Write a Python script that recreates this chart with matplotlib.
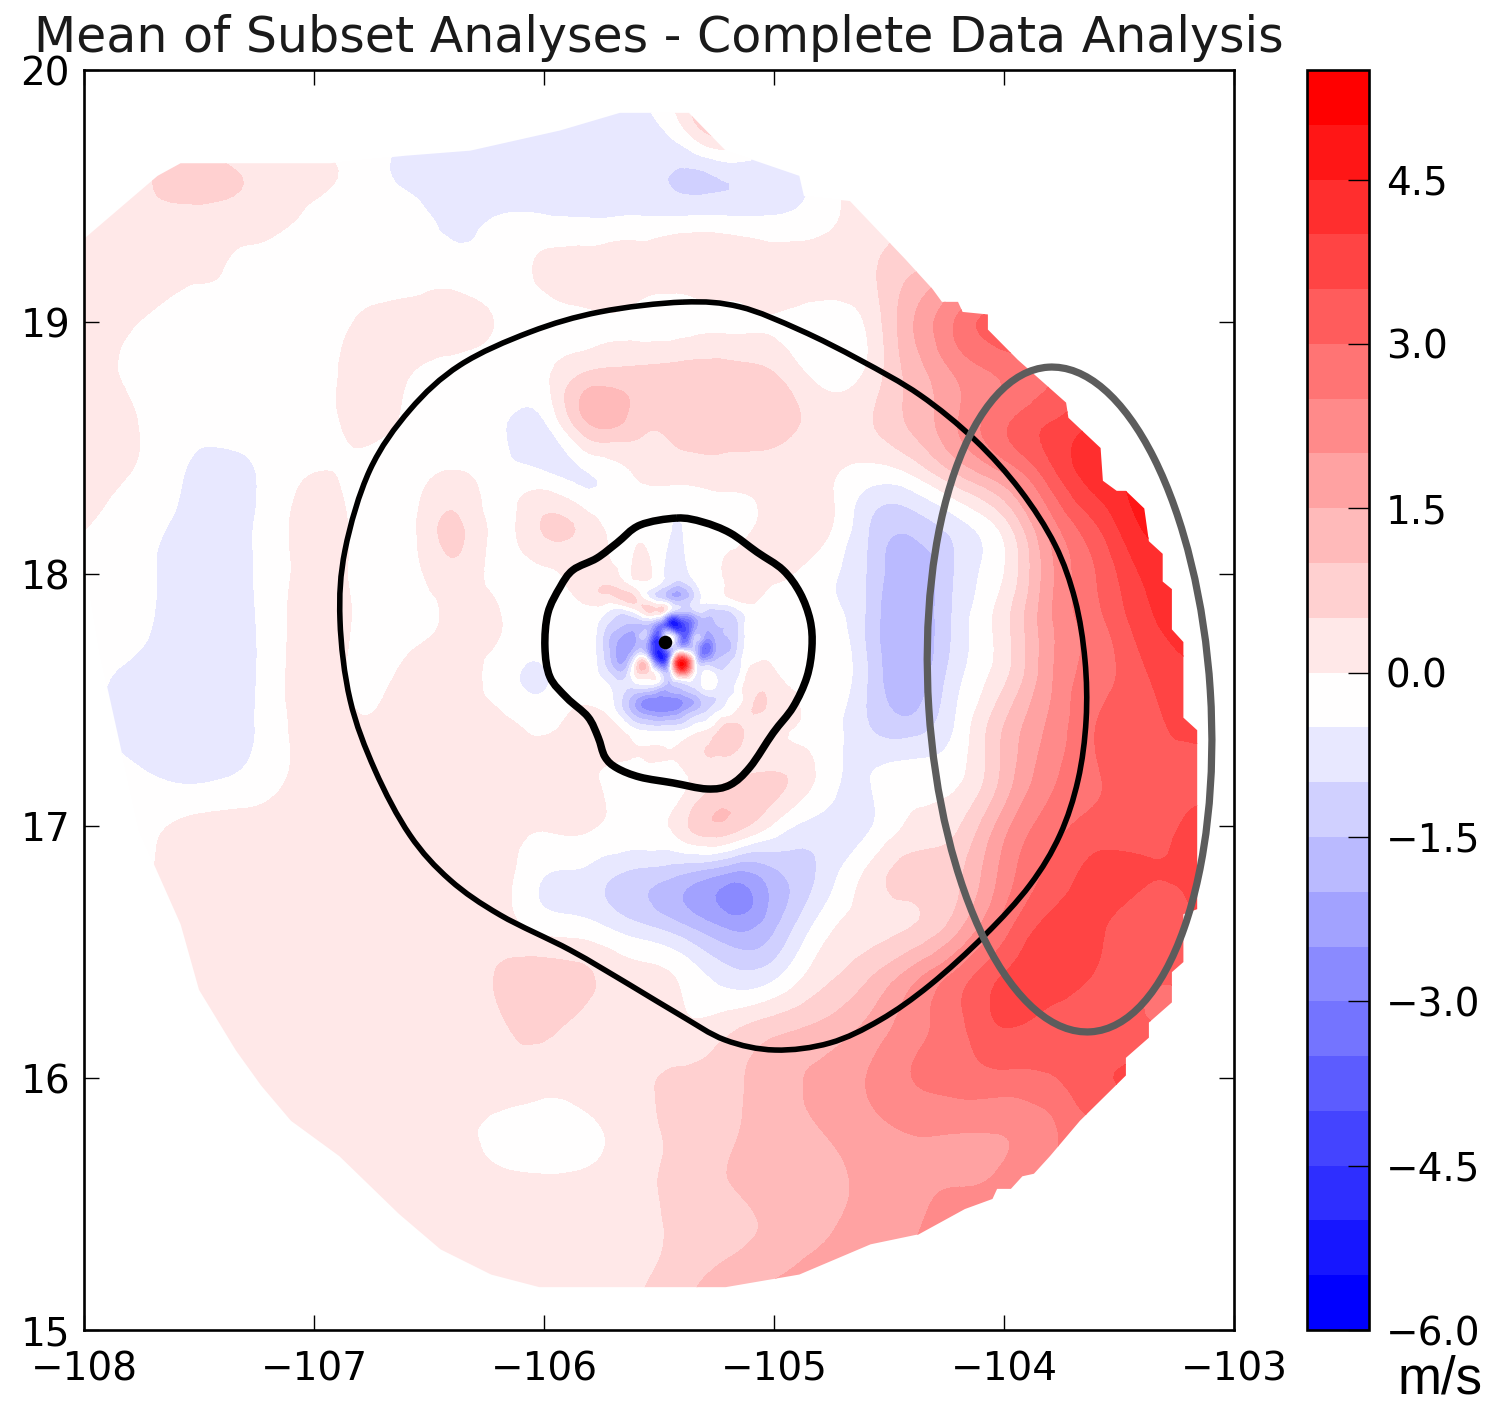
import numpy as np
import matplotlib
matplotlib.use("Agg")
import matplotlib.pyplot as plt
import matplotlib.tri as mtri
from matplotlib.patches import Ellipse, Polygon, PathPatch
from matplotlib.path import Path
from matplotlib.transforms import Affine2D

# wind difference (m/s), 0.2 degree grid, north to south
lons = [round(-108 + 0.2 * i, 3) for i in range(26)]
lats = [round(20 - 0.2 * i, 3) for i in range(26)]
field = [
    [-.25]*26,
    [-.25,-.25,-.25,-.25,-.25,-.25,-.25,-.25,-.25,-.3,-.6,-.75,-.75,.1,1.0,-.25,-.25,-.25,-.25,-.25,-.25,-.25,-.25,-.25,-.25,-.25],
    [.2,.3,.7,.6,.3,.1,-.2,-.6,-.8,-.8,-.8,-.8,-.8,-1.05,-.8,-.7,-.3,.3,.6,1,1.5,2,2,2,2,2],
    [.2,.25,.25,.25,.2,-.15,-.25,-.3,-.6,-.45,-.4,-.45,-.4,-.35,-.35,-.4,-.2,.3,.7,1.5,2,2.5,2.5,2.5,2.5,2.5],
    [.1,.25,.1,0,-.25,-.25,-.25,-.25,-.25,-.25,.1,.25,.3,.3,.3,.3,.25,.4,.95,1.5,2,2.5,3,3,3,3],
    [.1,.05,-.2,-.25,-.25,-.25,.05,.2,.25,-.05,-.2,-.1,-.15,-.2,-.1,-.05,-.3,.05,1.45,2.6,3.3,3.3,3.3,3.3,3.3,3.3],
    [.1,-.05,-.25,-.25,-.25,-.2,.15,.05,-.2,-.25,-.1,.55,.65,.75,.75,.5,-.2,.05,1.2,2.1,2.6,3.0,3.5,3.5,3.5,3.5],
    [.15,.05,-.25,-.25,-.25,-.25,.15,-.1,-.25,-.35,-.55,1.05,.75,.75,.8,.75,.3,.4,1.1,2.0,2.9,3.5,4,4,4,4],
    [.2,0,-.4,-.75,-.35,0,-.15,-.25,.05,-.25,-.45,-.5,.05,.2,.25,.25,.15,-.2,.05,1.05,2,3.3,4.3,4.6,4.6,4.6],
    [.05,-.25,-.55,-.75,-.3,.2,-.2,-.25,.6,-.15,.55,.2,-.2,-.5,-.2,.2,.25,-.9,-1.3,-.65,.3,2.25,3.5,4.55,4.6,4.6],
    [-.25,-.25,-.7,-.8,-.3,.15,-.15,-.25,.3,-.2,-.15,-.2,.2,-.3,.1,.1,-.3,-1,-1.85,-.9,0,1.85,3,4.05,4.4,4.4],
    [-.25,-.3,-.75,-.85,-.3,.2,-.1,-.2,.1,.05,-.4,-.5,-.3,-1.2,-.8,-.3,-.25,-1.05,-1.95,-.8,.3,1.9,2.8,3.75,4.2,4.2],
    [-.3,-.6,-.8,-.85,-.3,.2,-.1,.1,.2,-.2,-.55,-1.2,-1.5,-1,-1,.1,-.1,-.95,-1.85,-.65,.35,1.9,2.75,3.4,3.9,3.9],
    [-.25,-.7,-.85,-.8,-.3,.2,.05,.2,.25,.15,-.1,.2,-.75,-.8,.4,.15,-.15,-.95,-1.3,-.4,1,2.1,3,3.35,3.6,3.6],
    [-.25,-.4,-.6,-.55,-.2,.15,.1,.15,.3,.25,.25,.1,-.2,-.1,.4,.55,-.1,-.55,-.25,-.1,1.15,2.35,2.95,3.3,3.4,3.4],
    [-.25,-.25,.05,.2,.2,.25,.25,.25,.25,.2,.05,.05,-.1,.3,.85,-.1,-.7,-.6,.1,.45,1.8,2.75,3.2,3.3,3.55,3.6],
    [-.25,-.1,.1,.25,.25,.25,.25,.25,.25,.25,-.5,-.7,-1.2,-1.6,-2.2,-1.7,-.9,.1,.7,.9,2.2,3.15,3.65,3.55,3.55,3.6],
    [.25,.25,.1,.25,.25,.25,.25,.25,.25,.25,-.2,-.35,-.85,-1.4,-2.1,-1.6,-.3,.25,.5,1.35,2.75,3.65,3.6,3.25,3.45,3.5],
    [.25,.25,.25,.25,.25,.25,.25,.25,.25,.55,.8,.55,.2,-.1,-.75,-.6,.3,.9,1.8,2.7,3.55,3.75,3.45,3.1,3.1,3.1],
    [.25,.25,.25,.25,.25,.25,.25,.25,.25,.4,.6,.3,.25,.1,.35,.8,1.1,1.6,2.3,2.85,3.5,3.3,3.2,3.1,3,3],
    [.25,.25,.25,.25,.25,.25,.25,.25,.25,.25,.25,.25,.35,.6,.85,1.3,1.6,2,2.5,2.75,2.85,2.95,3.4,3.6,3.6,3.6],
    [.25,.25,.25,.25,.25,.25,.25,.25,.1,-.1,-.3,-.1,.3,.6,.9,1.25,1.5,1.8,2.05,2.05,2.05,2.4,2.9,3,3,3],
    [.25,.25,.25,.25,.25,.25,.25,.25,.25,.1,.05,.1,.3,.7,1,1.2,1.4,1.6,1.9,1.95,2.1,2.5,2.5,2.5,2.5,2.5],
    [.25,.25,.25,.25,.25,.25,.2,.25,.25,.3,.3,.3,.35,.6,.85,1.1,1.4,1.7,1.95,2.2,2.2,2.2,2.2,2.2,2.2,2.2],
    [.25,.25,.25,.25,.25,.25,.25,.25,.25,.25,.25,.25,.4,.8,1.2,1.5,1.8,2,2.2,2.4,2.4,2.4,2.4,2.4,2.4,2.4],
    [.25,.25,.25,.25,.25,.25,.25,.25,.25,.25,.25,.3,.6,1,1.5,1.9,2.1,2.3,2.5,2.5,2.5,2.5,2.5,2.5,2.5,2.5],
]

# storm core on a 0.05 degree grid, north to south
core_lons = [round(-105.8 + 0.05 * i, 3) for i in range(15)]
core_lats = [round(18.0 - 0.05 * i, 3) for i in range(14)]
core_field = [
    [.2,.2,.1,-.1,.1,.1,-.3,-.7,-.7,-.4,-.2,-.1,.1,.1,.1],
    [.4,.5,.5,.2,-.1,-.3,-.7,-1.3,-1.5,-.8,-.3,-.2,.1,.2,.1],
    [.2,.3,.3,.6,.5,-.2,-.9,-1.6,-1.7,-1,-.4,-.2,-.1,.1,.1],
    [-.2,-.3,-.7,-.8,-.3,.5,.5,-1.1,-1.5,-1.3,-1.1,-1.2,-1.1,-.6,-.25],
    [-.3,-.7,-1.2,-1.5,-1.6,-1.5,-2.8,-5,-4.5,-2.8,-1.8,-1.5,-1.5,-.9,-.25],
    [-.3,-.9,-1.7,-2.2,-2,-1.9,-4,-.2,-3.5,-1.8,-2.2,-1.8,-1.5,-.9,-.25],
    [-.3,-.9,-1.8,-2.4,-1.7,-2.4,-5,-2.2,-1.1,-1.4,-3.5,-2,-1.6,-.8,-.25],
    [-.3,-.8,-1.7,-2,0,.1,-4,-1.1,5,.5,-1.7,-1.4,-1.1,-.6,-.1],
    [-.25,-.6,-1.1,-1.2,.1,.3,-.5,-1,1.5,-.2,-.3,-.6,-.9,-.5,.2],
    [-.25,-.3,-.6,-.9,-.9,-.9,-1.4,-1.7,-1.4,-1,-.4,-.6,-.8,-.2,.3],
    [-.1,-.25,-.5,-1.2,-2,-2.7,-2.8,-2.8,-2.5,-2,-1.3,-1,-.5,-.2,.4],
    [.1,.05,-.3,-1,-1.8,-2.3,-2.5,-2.4,-2,-1.4,-1,-.5,-.25,.2,.5],
    [.2,.2,.1,-.3,-.8,-1,-1.1,-1,-.9,-.5,-.3,.1,.6,.5,.4],
    [.2,.2,.2,.1,-.1,-.15,-.2,-.2,-.1,.1,.3,.6,.8,.6,.3],
]

# edge of the analysis domain
domain_lon = [-108,-107.68,-107.58,-106.93,-106.6,-106.32,-105.93,-105.67,-105.37,-105.21,-104.89,-104.87,-104.67,-104.43,
              -104.31,-104.27,-104.2,-104.18,-104.07,-104.07,-103.94,-103.73,-103.72,-103.58,-103.57,-103.51,-103.47,-103.39,
              -103.37,-103.31,-103.31,-103.27,-103.27,-103.22,-103.22,-103.16,-103.16,-103.22,-103.22,-103.27,-103.27,-103.37,
              -103.37,-103.47,-103.47,-103.57,-103.67,-103.8,-103.87,-103.92,-103.97,-104.03,-104.05,-104.17,-104.37,-104.58,
              -104.89,-105.21,-106.02,-106.23,-106.45,-106.63,-106.89,-107.1,-107.23,-107.34,-107.5,-107.58,-107.76,-107.93,-108]
domain_lat = [19.33,19.58,19.63,19.63,19.66,19.68,19.76,19.83,19.83,19.68,19.58,19.5,19.48,19.25,
              19.13,19.08,19.08,19.04,19.03,18.97,18.85,18.68,18.62,18.5,18.37,18.33,18.33,18.26,
              18.13,18.08,17.97,17.94,17.78,17.73,17.43,17.38,16.67,16.65,16.46,16.42,16.3,16.22,
              16.16,16.08,16.01,15.92,15.83,15.69,15.62,15.61,15.56,15.56,15.52,15.48,15.38,15.34,
              15.22,15.17,15.17,15.22,15.32,15.46,15.69,15.83,15.97,16.11,16.35,16.61,16.98,17.68,18.06]

# black contours
outer_lon = [-105.396,-105.148,-104.887,-104.626,-104.365,-104.126,-103.93,-103.778,-103.691,-103.648,-103.643,-103.678,
             -103.757,-103.887,-104.083,-104.322,-104.539,-104.757,-104.996,-105.213,-105.409,-105.626,-105.887,-106.191,
             -106.409,-106.583,-106.735,-106.843,-106.887,-106.865,-106.757,-106.583,-106.365,-106.061,-105.757]
outer_lat = [19.079,19.06,18.968,18.849,18.71,18.532,18.333,18.115,17.897,17.659,17.421,17.183,
             16.964,16.766,16.567,16.369,16.23,16.139,16.111,16.151,16.25,16.369,16.508,16.647,
             16.786,16.964,17.222,17.5,17.817,18.095,18.413,18.651,18.829,18.96,19.04]
inner_lon = [-105.422,-105.309,-105.191,-105.074,-104.961,-104.887,-104.843,-104.835,-104.857,-104.917,-105.004,-105.104,
             -105.191,-105.291,-105.439,-105.583,-105.683,-105.735,-105.765,-105.809,-105.9,-105.974,-105.996,-105.983,
             -105.93,-105.874,-105.77,-105.683,-105.583]
inner_lat = [18.222,18.206,18.163,18.087,18.016,17.925,17.817,17.71,17.591,17.472,17.369,17.234,
             17.163,17.147,17.171,17.194,17.23,17.274,17.353,17.433,17.508,17.591,17.71,17.845,
             17.948,18.016,18.063,18.123,18.194]

center_lon = -105.474
center_lat = 17.73

levels = np.arange(-6, 5.51, 0.5)
cbar_ticks = [-6, -4.5, -3, -1.5, 0, 1.5, 3, 4.5]
cbar_labels = ["\u22126.0", "\u22124.5", "\u22123.0", "\u22121.5", "0.0", "1.5", "3.0", "4.5"]
x_ticks = [-108, -107, -106, -105, -104, -103]
y_ticks = [15, 16, 17, 18, 19, 20]


def closed_curve(xs, ys):
    """Smooth closed bezier path through the points (Catmull-Rom tangents)."""
    pts = np.column_stack([xs, ys])
    n = len(pts)
    verts = [pts[0]]
    codes = [Path.MOVETO]
    for i in range(n):
        p0, p1, p2, p3 = pts[i - 1], pts[i], pts[(i + 1) % n], pts[(i + 2) % n]
        verts += [p1 + (p2 - p0) / 6, p2 - (p3 - p1) / 6, p2]
        codes += [Path.CURVE4] * 3
    return Path(verts, codes)


# merge both grids: core points replace the coarse ones inside the core box
glon, glat = np.meshgrid(lons, lats)
gval = np.array(field)
clon, clat = np.meshgrid(core_lons, core_lats)
keep = ~((glon >= -105.801) & (glon <= -105.099) & (glat >= 17.349) & (glat <= 18.001))
all_lon = np.concatenate([glon[keep], clon.ravel()])
all_lat = np.concatenate([glat[keep], clat.ravel()])
all_val = np.concatenate([gval[keep], np.array(core_field).ravel()])

tri = mtri.Triangulation(all_lon, all_lat)
smooth_tri, smooth_val = mtri.UniformTriRefiner(tri).refine_field(all_val, subdiv=3)
smooth_val = np.clip(smooth_val, -5.99, 5.49)

fig = plt.figure(figsize=(14.9, 14.09), dpi=100)
W, H = 1490.0, 1409.0
ax = fig.add_axes([84 / W, 1 - 1330 / H, 1150 / W, 1260 / H])
cax = fig.add_axes([1307 / W, 1 - 1330 / H, 62 / W, 1260 / H])

cmap = plt.get_cmap("bwr")
colors = [cmap(i / 22) for i in range(23)]

clip = Polygon(np.column_stack([domain_lon, domain_lat]), closed=True, transform=ax.transData)
cf = ax.tricontourf(smooth_tri, smooth_val, levels=levels, colors=colors)
cf.set_clip_path(clip)

ax.add_patch(PathPatch(closed_curve(outer_lon, outer_lat), fill=False, ec="black", lw=4.0, zorder=5))
ax.add_patch(PathPatch(closed_curve(inner_lon, inner_lat), fill=False, ec="black", lw=5.4, zorder=5))
ax.scatter([center_lon], [center_lat], s=95, color="black", zorder=6, linewidths=0)

# highlight ellipse, drawn in screen-square units so the tilt stays right
stretch = 252 / 230
ax.add_patch(Ellipse((-103.715, 17.502 * stretch), 282 / 230, 666 / 230, angle=3.67, fill=False,
                     ec="#5c5c5c", lw=5.2, zorder=7,
                     transform=Affine2D().scale(1, 1 / stretch) + ax.transData))

ax.set_xlim(-108, -103)
ax.set_ylim(15, 20)
ax.set_xticks(x_ticks)
ax.set_yticks(y_ticks)
ax.tick_params(direction="in", length=11, width=1, top=True, right=True, labelsize=28, pad=10)
ax.tick_params(axis="x", pad=15)
for s in ax.spines.values():
    s.set_linewidth(1.9)
ax.set_title("Mean of Subset Analyses - Complete Data Analysis", fontsize=35.3, pad=13, color="#1a1a1a")

cb = fig.colorbar(cf, cax=cax, ticks=cbar_ticks)
cb.ax.set_yticklabels(cbar_labels)
cb.ax.tick_params(direction="in", length=15, width=1, labelsize=28, pad=12)
cb.outline.set_linewidth(1.9)

fig.text(1440 / W, 1 - 1380 / H, "m/s", fontsize=38, family="Liberation Sans", ha="center", va="center")

fig.savefig("out.png", dpi=100)
